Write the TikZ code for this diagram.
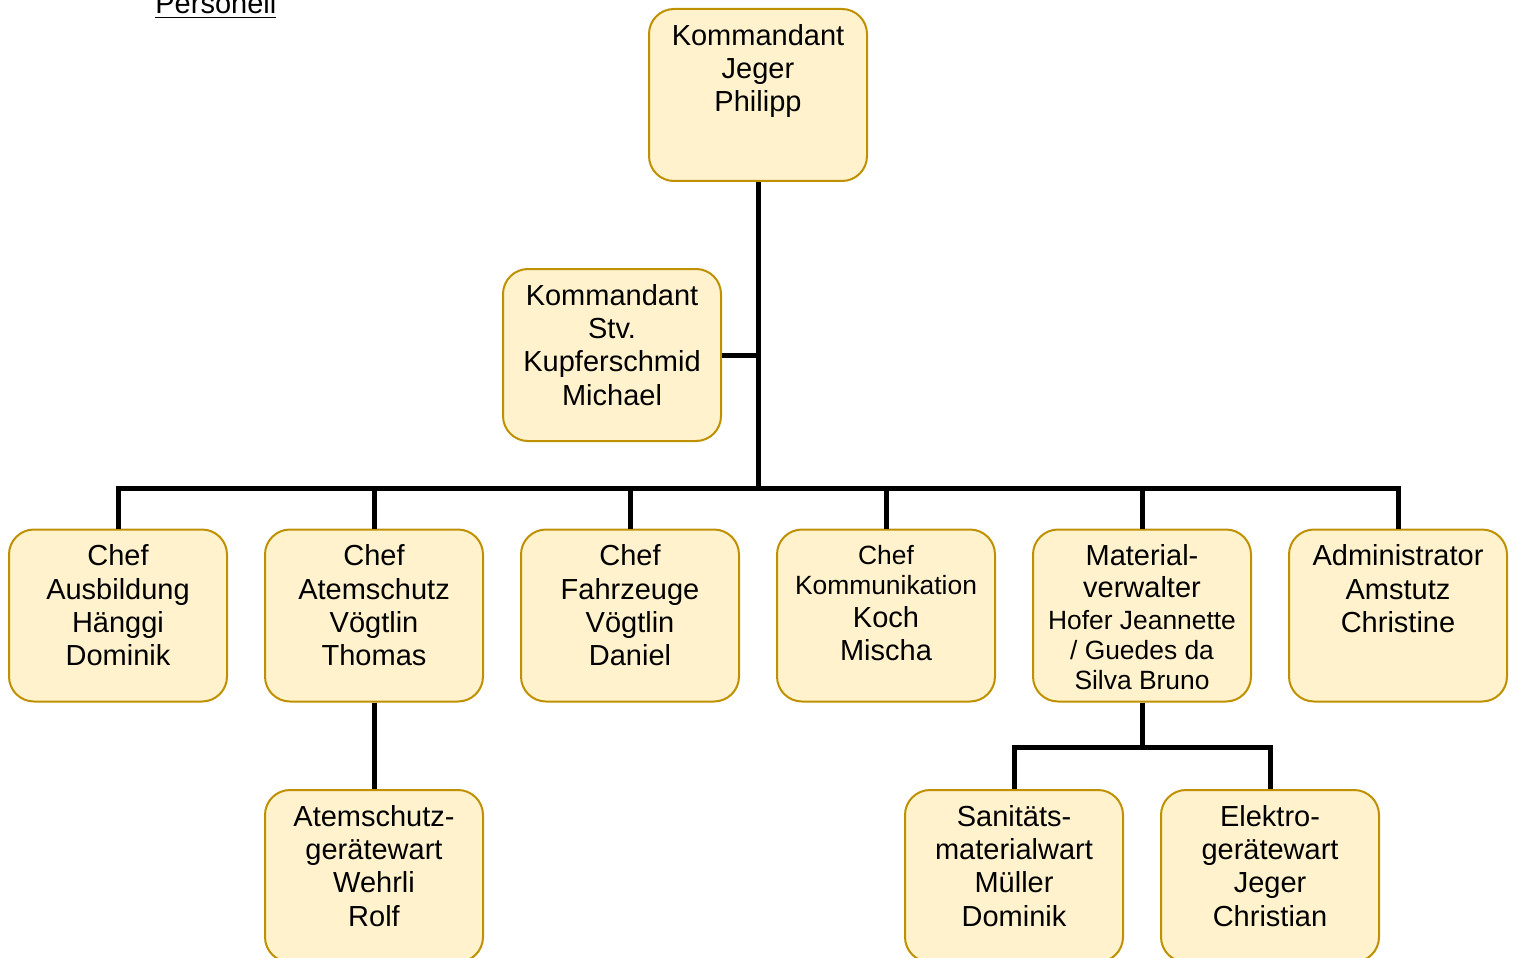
\documentclass[tikz,border=0pt]{standalone}
\usepackage{fontspec}
\setmainfont{Liberation Sans}
\usetikzlibrary{positioning}
\definecolor{boxfill}{HTML}{FFF2CC}
\definecolor{boxline}{HTML}{BF9000}
\newcommand{\smalltxt}{\fontsize{13.2}{15.5}\selectfont}
\tikzset{
  box/.style={draw=boxline, fill=boxfill, line width=1pt, rounded corners=12.5pt,
    minimum width=109pt, minimum height=86pt, inner sep=0pt},
  txt/.style={align=center, inner sep=0pt, font=\fontsize{14.5}{16.6}\selectfont},
  conn/.style={line width=2.5pt, black}
}
\begin{document}
\begin{tikzpicture}[x=0.5pt, y=-0.5pt]
    \useasboundingbox (0,0) rectangle (1518,957);

    \node[anchor=base west, inner sep=0pt, font=\fontsize{14.5}{16.6}\selectfont] (titel) at (155,14) {\underline{Personell}};

    % Kommandant
    \node[box] (kdt) at (758,95) {};
    \node[txt, below=8pt of kdt.north] (kdttxt) {Kommandant\\Jeger\\Philipp};

    \node[box] (stv) at (612,355) {};
    \node[txt, below=8pt of stv.north] (stvtxt) {Kommandant\\Stv.\\Kupferschmid\\Michael};

    % Chefs
    \node[box] (ausb) at (118,615.5) {};
    \node[txt, below=8pt of ausb.north] (ausbtxt) {Chef\\Ausbildung\\Hänggi\\Dominik};

    \node[box] (atem) at (374,615.5) {};
    \node[txt, below=8pt of atem.north] (atemtxt) {Chef\\Atemschutz\\Vögtlin\\Thomas};

    \node[box] (fahr) at (630,615.5) {};
    \node[txt, below=8pt of fahr.north] (fahrtxt) {Chef\\Fahrzeuge\\Vögtlin\\Daniel};

    \node[box] (komm) at (886,615.5) {};
    \node[txt, below=8pt of komm.north] (kommtxt) {{\smalltxt Chef}\\[-1.5pt]{\smalltxt Kommunikation}\\Koch\\Mischa};

    \node[box] (mat) at (1142,615.5) {};
    \node[txt, below=8pt of mat.north] (mattxt) {Material-\\[-0.8pt]verwalter\\[-0.8pt]{\smalltxt Hofer Jeannette}\\[-1.3pt]{\smalltxt / Guedes da}\\[-1.8pt]{\smalltxt Silva Bruno}};

    \node[box] (admin) at (1398,615.5) {};
    \node[txt, below=8pt of admin.north] (admintxt) {Administrator\\Amstutz\\Christine};

    % Untere Ebene
    \node[box] (atemgw) at (374,876) {};
    \node[txt, below=8pt of atemgw.north] (atemgwtxt) {Atemschutz-\\gerätewart\\Wehrli\\Rolf};

    \node[box] (san) at (1014,876) {};
    \node[txt, below=8pt of san.north] (santxt) {Sanitäts-\\materialwart\\Müller\\Dominik};

    \node[box] (elek) at (1270,876) {};
    \node[txt, below=8pt of elek.north] (elektxt) {Elektro-\\gerätewart\\Jeger\\Christian};

    % Verbindungen
    \coordinate (bus) at (758,488);
    \coordinate (matbus) at (1142,747);
    \draw[conn] (kdt.south) -- (bus);
    \draw[conn] (stv.east) -- (stv.east -| kdt.south);
    \draw[conn] (ausb.north) |- (admin.north |- bus) -- (admin.north);
    \foreach \n in {atem, fahr, komm, mat}
        \draw[conn] (\n.north) -- (\n.north |- bus);
    \draw[conn] (atem.south) -- (atemgw.north);
    \draw[conn] (mat.south) -- (matbus);
    \draw[conn] (san.north) |- (elek.north |- matbus) -- (elek.north);
\end{tikzpicture}
\end{document}
